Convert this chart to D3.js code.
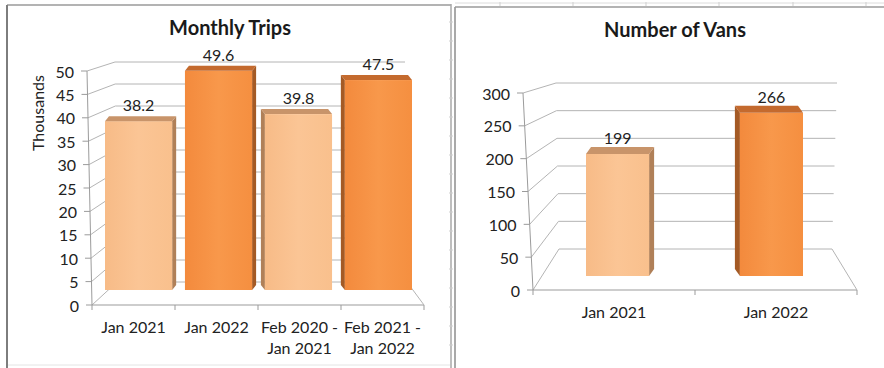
<!DOCTYPE html>
<html>
<head>
<meta charset="utf-8">
<script src="https://cdn.jsdelivr.net/npm/d3@7"></script>
<style>
  html, body { margin: 0; padding: 0; background: #fff; }
  svg { display: block; font-family: Lato, "Open Sans", sans-serif; }
</style>
</head>
<body>
<svg id="chart" width="884" height="368"></svg>
<script>
// Data
const tripCategories = ['Jan 2021', 'Jan 2022', 'Feb 2020 -\nJan 2021', 'Feb 2021 -\nJan 2022'];
const tripValues = [38.2, 49.6, 39.8, 47.5];
const tripTicks = [0, 5, 10, 15, 20, 25, 30, 35, 40, 45, 50];

const vanCategories = ['Jan 2021', 'Jan 2022'];
const vanValues = [199, 266];
const vanTicks = [0, 50, 100, 150, 200, 250, 300];

const svg = d3.select('#chart');

// bar colours (light / dark alternate)
const palette = [
  { id: 'light', stops: ['#f7bb87', '#fbc595', '#f9c08d'], top: '#c8946a', side: '#b08058' },
  { id: 'dark', stops: ['#f38a3d', '#f8984b', '#f58f40'], top: '#c46a2e', side: '#a45a25' }
];

const defs = svg.append('defs');
palette.forEach(p => {
  const g = defs.append('linearGradient').attr('id', 'grad-' + p.id)
    .attr('x1', 0).attr('x2', 1).attr('y1', 0).attr('y2', 0);
  p.stops.forEach((c, i) => g.append('stop').attr('offset', i / (p.stops.length - 1)).attr('stop-color', c));
});

// spreadsheet frame bits
const frame = svg.append('g');
frame.append('line').attr('x1', 7).attr('y1', 5).attr('x2', 451).attr('y2', 5).attr('stroke', '#9a9a9a').attr('stroke-width', 1.5);
frame.append('line').attr('x1', 7).attr('y1', 5).attr('x2', 7).attr('y2', 368).attr('stroke', '#7d7d7d').attr('stroke-width', 2);
frame.append('line').attr('x1', 8).attr('y1', 365).attr('x2', 450).attr('y2', 365).attr('stroke', '#e4e4e4');
frame.append('line').attr('x1', 451).attr('y1', 4).attr('x2', 451).attr('y2', 368).attr('stroke', '#a8a8a8').attr('stroke-width', 1.5);
frame.append('line').attr('x1', 455).attr('y1', 7).attr('x2', 455).attr('y2', 368).attr('stroke', '#8c8c8c').attr('stroke-width', 1.5);
frame.append('line').attr('x1', 455).attr('y1', 7).attr('x2', 884).attr('y2', 7).attr('stroke', '#9a9a9a').attr('stroke-width', 1.5);
frame.append('line').attr('x1', 455).attr('y1', 3).attr('x2', 884).attr('y2', 3).attr('stroke', '#dcdcdc');
[500, 573, 646, 719, 793, 866].forEach(x => {
  frame.append('line').attr('x1', x).attr('y1', 2).attr('x2', x).attr('y2', 6).attr('stroke', '#cfcfcf');
});
[22, 41, 60, 79, 98, 117, 136, 155, 174, 193, 212, 231, 250, 269, 288, 307, 326, 345].forEach(y => {
  frame.append('line').attr('x1', 449).attr('y1', y).attr('x2', 453).attr('y2', y).attr('stroke', '#cfcfcf');
});

function drawChart(cfg) {
  const g = svg.append('g');
  const { frontY, frontX, backY, backXL, backXR, barY, catX, barX } = cfg;
  const y0 = frontY.domain()[0];
  const gridColor = '#b4b4b4';
  const axisColor = '#9b9b9b';

  // title
  g.append('text')
    .attr('x', cfg.titleX).attr('y', cfg.titleY)
    .attr('text-anchor', 'middle')
    .attr('font-size', 20).attr('font-weight', 'bold').attr('fill', '#1a1a1a')
    .text(cfg.title);

  // back wall gridlines
  g.selectAll('.grid').data(cfg.ticks).join('line')
    .attr('x1', d => backXL(d)).attr('y1', d => backY(d))
    .attr('x2', d => backXR(d)).attr('y2', d => backY(d))
    .attr('stroke', gridColor).attr('stroke-width', 1);

  // side wall diagonals
  g.selectAll('.diag').data(cfg.ticks).join('line')
    .attr('x1', d => frontX(d)).attr('y1', d => frontY(d))
    .attr('x2', d => backXL(d)).attr('y2', d => backY(d))
    .attr('stroke', gridColor).attr('stroke-width', 1);

  // floor
  const [c0, c1] = catX.range();
  g.append('line')
    .attr('x1', c0).attr('y1', frontY(y0)).attr('x2', c1).attr('y2', frontY(y0))
    .attr('stroke', axisColor);
  g.append('line')
    .attr('x1', backXR(y0)).attr('y1', backY(y0)).attr('x2', c1).attr('y2', frontY(y0))
    .attr('stroke', gridColor);

  // category ticks
  const edges = cfg.categories.map(c => catX(c)).concat([c1]);
  g.selectAll('.ctick').data(edges).join('line')
    .attr('x1', d => d).attr('x2', d => d)
    .attr('y1', frontY(y0)).attr('y2', frontY(y0) + 5)
    .attr('stroke', axisColor);

  // value axis
  const [t0, t1] = d3.extent(cfg.ticks);
  g.append('line')
    .attr('x1', frontX(t0)).attr('y1', frontY(t0)).attr('x2', frontX(t1)).attr('y2', frontY(t1))
    .attr('stroke', axisColor);
  g.selectAll('.vtick').data(cfg.ticks).join('line')
    .attr('x1', d => frontX(d) - 6).attr('x2', d => frontX(d))
    .attr('y1', d => frontY(d)).attr('y2', d => frontY(d))
    .attr('stroke', axisColor);
  g.selectAll('.vlabel').data(cfg.ticks).join('text')
    .attr('x', d => frontX(d) - 13).attr('y', d => frontY(d))
    .attr('text-anchor', 'end').attr('dominant-baseline', 'central')
    .attr('font-size', 16).attr('fill', '#222')
    .text(d => d);

  if (cfg.axisTitle) {
    g.append('text')
      .attr('transform', `translate(${cfg.axisTitle.x},${cfg.axisTitle.y}) rotate(-90)`)
      .attr('text-anchor', 'middle').attr('dominant-baseline', 'central')
      .attr('font-size', 16).attr('fill', '#222')
      .text(cfg.axisTitle.text);
  }

  // bars
  const midX = (c0 + c1) / 2;
  const depth = cfg.depth;
  cfg.categories.forEach((cat, i) => {
    const v = cfg.values[i];
    const p = palette[i % 2];
    const x0 = barX(cat), x1 = x0 + barX.bandwidth();
    const top = barY(v), bot = barY(0);
    const dx = (x0 + x1) / 2 < midX ? depth.dx : -depth.dx;
    const dy = depth.dy;
    const bar = g.append('g');
    // side face
    const sx = dx > 0 ? x1 : x0;
    bar.append('path')
      .attr('d', `M${sx},${top}L${sx + dx},${top - dy}L${sx + dx},${bot - dy}L${sx},${bot}Z`)
      .attr('fill', p.side);
    // front face
    bar.append('rect')
      .attr('x', x0).attr('y', top).attr('width', x1 - x0).attr('height', bot - top)
      .attr('fill', `url(#grad-${p.id})`);
    // top face
    bar.append('path')
      .attr('d', `M${x0},${top}L${x1},${top}L${x1 + dx},${top - dy}L${x0 + dx},${top - dy}Z`)
      .attr('fill', p.top);
    // value label
    g.append('text')
      .attr('x', (x0 + x1) / 2).attr('y', top - 10)
      .attr('text-anchor', 'middle')
      .attr('font-size', 16).attr('fill', '#222')
      .text(d3.format(cfg.format)(v));
  });

  // category labels
  cfg.categories.forEach(cat => {
    const lines = cat.split('\n');
    const t = g.append('text')
      .attr('x', catX(cat) + catX.bandwidth() / 2)
      .attr('y', cfg.labelY)
      .attr('text-anchor', 'middle')
      .attr('font-size', 16).attr('fill', '#222');
    lines.forEach((l, k) => {
      t.append('tspan')
        .attr('x', catX(cat) + catX.bandwidth() / 2)
        .attr('dy', k === 0 ? 0 : 21)
        .text(l);
    });
  });
}

drawChart({
  title: 'Monthly Trips', titleX: 230, titleY: 35,
  categories: tripCategories, values: tripValues, ticks: tripTicks, format: '.1f',
  axisTitle: { text: 'Thousands', x: 37, y: 113 },
  frontY: d3.scaleLinear([0, 50], [305, 71]),
  frontX: d3.scaleLinear([0, 50], [92, 87]),
  backY: d3.scaleLinear([0, 50], [282, 62]),
  backXL: d3.scaleLinear([0, 50], [117, 115]),
  backXR: d3.scaleLinear([0, 50], [407, 405]),
  barY: d3.scaleLinear([0, 50], [290, 69]),
  catX: d3.scaleBand(tripCategories, [92, 424]),
  barX: d3.scaleBand(tripCategories, [105, 412]).paddingInner(0.16),
  depth: { dx: 4, dy: 5 },
  labelY: 333
});

drawChart({
  title: 'Number of Vans', titleX: 675, titleY: 37,
  categories: vanCategories, values: vanValues, ticks: vanTicks, format: 'd',
  frontY: d3.scaleLinear([0, 300], [290, 93]),
  frontX: d3.scaleLinear([0, 300], [533, 523]),
  backY: d3.scaleLinear([0, 300], [249, 83]),
  backXL: d3.scaleLinear([0, 300], [559, 556]),
  backXR: d3.scaleLinear([0, 300], [832, 837]),
  barY: d3.scaleLinear([0, 300], [276, 92]),
  catX: d3.scaleBand(vanCategories, [533, 857]),
  barX: d3.scaleBand(vanCategories, [586, 803]).paddingInner(0.59),
  depth: { dx: 5, dy: 7 },
  labelY: 318
});
</script>
</body>
</html>
